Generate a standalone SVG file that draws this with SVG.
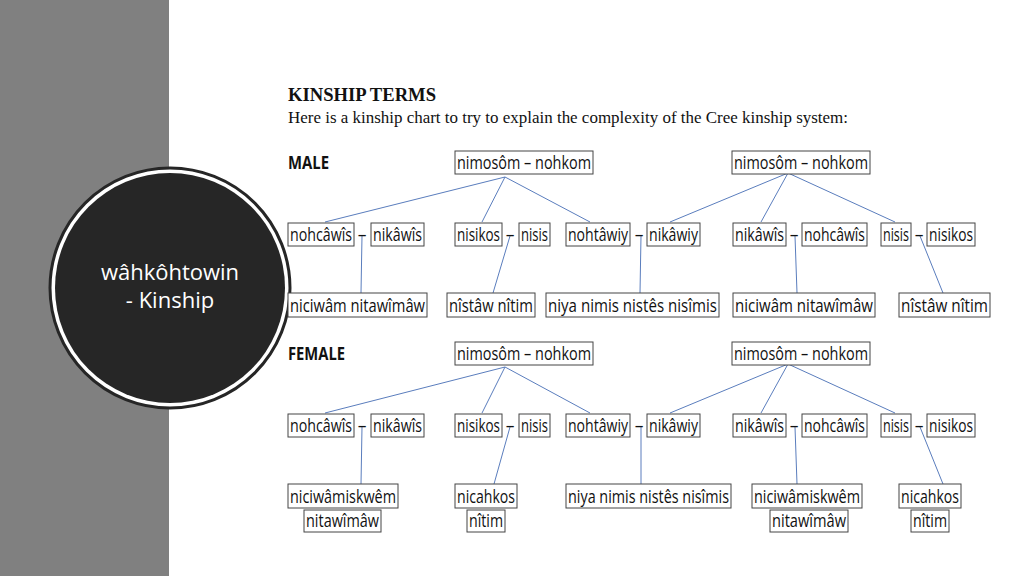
<svg xmlns="http://www.w3.org/2000/svg" width="1024" height="576" viewBox="0 0 1024 576">
<style>
.b rect{fill:#fff;stroke:#444;stroke-width:1}
.b text,.d{font-family:"Open Sans","Liberation Sans",sans-serif;font-size:17.5px;fill:#111}
.s{font-family:"Liberation Serif",serif;fill:#111}
#connectors line{stroke:#5a7dbd;stroke-width:1}
</style>
<rect x="0" y="0" width="1024" height="576" fill="#fff"/>
<rect x="0" y="0" width="169" height="576" fill="#808080"/>
<g id="circle">
<circle cx="170" cy="288" r="120" fill="#fff" stroke="#262626" stroke-width="3"/>
<circle cx="170" cy="288" r="115" fill="#262626"/>
<text x="170" y="280" text-anchor="middle" font-family="Open Sans,sans-serif" font-size="22" fill="#fff">wâhkôhtowin</text>
<text x="170" y="308" text-anchor="middle" font-family="Open Sans,sans-serif" font-size="22" fill="#fff">- Kinship</text>
</g>
<text class="s" x="288" y="101" font-size="18" font-weight="bold" textLength="148" lengthAdjust="spacingAndGlyphs">KINSHIP TERMS</text>
<text class="s" x="288" y="123" font-size="17" textLength="560" lengthAdjust="spacingAndGlyphs">Here is a kinship chart to try to explain the complexity of the Cree kinship system:</text>
<text class="d" x="288" y="169" font-weight="bold" textLength="41" lengthAdjust="spacingAndGlyphs">MALE</text>
<text class="d" x="288" y="360" font-weight="bold" textLength="57" lengthAdjust="spacingAndGlyphs">FEMALE</text>
<g id="connectors">
<line x1="505" y1="177" x2="325" y2="222"/><line x1="505" y1="177" x2="482" y2="222"/><line x1="505" y1="177" x2="590" y2="222"/>
<line x1="788" y1="173" x2="670" y2="222"/><line x1="788" y1="173" x2="761" y2="222"/><line x1="788" y1="173" x2="895" y2="222"/>
<line x1="362" y1="236" x2="361" y2="293"/><line x1="510" y1="236" x2="493" y2="293"/><line x1="641" y1="236" x2="640" y2="293"/><line x1="795" y1="236" x2="797" y2="293"/><line x1="920" y1="236" x2="943" y2="293"/>
<line x1="505" y1="367" x2="325" y2="413"/><line x1="505" y1="367" x2="482" y2="413"/><line x1="505" y1="367" x2="590" y2="413"/>
<line x1="788" y1="364" x2="670" y2="413"/><line x1="788" y1="364" x2="761" y2="413"/><line x1="788" y1="364" x2="895" y2="413"/>
<line x1="362" y1="427" x2="361" y2="484"/><line x1="510" y1="427" x2="494" y2="484"/><line x1="641" y1="427" x2="641" y2="484"/><line x1="795" y1="427" x2="797" y2="484"/><line x1="920" y1="427" x2="943" y2="484"/>
</g>
<g class="d">
<text x="362" y="241" text-anchor="middle">–</text><text x="510" y="241" text-anchor="middle">–</text><text x="639" y="241" text-anchor="middle">–</text><text x="794" y="241" text-anchor="middle">–</text><text x="919" y="241" text-anchor="middle">–</text>
<text x="362" y="432" text-anchor="middle">–</text><text x="510" y="432" text-anchor="middle">–</text><text x="639" y="432" text-anchor="middle">–</text><text x="794" y="432" text-anchor="middle">–</text><text x="919" y="432" text-anchor="middle">–</text>
</g>
<g class="b">
<g id="m-top1"><rect x="455" y="151" width="138" height="23"/><text x="457" y="169" textLength="134" lengthAdjust="spacingAndGlyphs">nimosôm – nohkom</text></g>
<g id="m-top2"><rect x="732" y="151" width="138" height="23"/><text x="734" y="169" textLength="134" lengthAdjust="spacingAndGlyphs">nimosôm – nohkom</text></g>
<g id="m-r2a"><rect x="288" y="223" width="66" height="23"/><text x="290" y="241" textLength="62" lengthAdjust="spacingAndGlyphs">nohcâwîs</text></g>
<g id="m-r2b"><rect x="371" y="223" width="53" height="23"/><text x="373" y="241" textLength="49" lengthAdjust="spacingAndGlyphs">nikâwîs</text></g>
<g id="m-r2c"><rect x="455" y="223" width="47" height="23"/><text x="457" y="241" textLength="43" lengthAdjust="spacingAndGlyphs">nisikos</text></g>
<g id="m-r2d"><rect x="519" y="223" width="31" height="23"/><text x="521" y="241" textLength="27" lengthAdjust="spacingAndGlyphs">nisis</text></g>
<g id="m-r2e"><rect x="566" y="223" width="64" height="23"/><text x="568" y="241" textLength="60" lengthAdjust="spacingAndGlyphs">nohtâwiy</text></g>
<g id="m-r2f"><rect x="647" y="223" width="53" height="23"/><text x="649" y="241" textLength="49" lengthAdjust="spacingAndGlyphs">nikâwiy</text></g>
<g id="m-r2g"><rect x="733" y="223" width="53" height="23"/><text x="735" y="241" textLength="49" lengthAdjust="spacingAndGlyphs">nikâwîs</text></g>
<g id="m-r2h"><rect x="802" y="223" width="65" height="23"/><text x="804" y="241" textLength="61" lengthAdjust="spacingAndGlyphs">nohcâwîs</text></g>
<g id="m-r2i"><rect x="881" y="223" width="30" height="23"/><text x="883" y="241" textLength="26" lengthAdjust="spacingAndGlyphs">nisis</text></g>
<g id="m-r2j"><rect x="927" y="223" width="48" height="23"/><text x="929" y="241" textLength="44" lengthAdjust="spacingAndGlyphs">nisikos</text></g>
<g id="m-r3a"><rect x="288" y="293" width="139" height="24"/><text x="290" y="312" textLength="135" lengthAdjust="spacingAndGlyphs">niciwâm nitawîmâw</text></g>
<g id="m-r3b"><rect x="447" y="293" width="88" height="24"/><text x="449" y="312" textLength="84" lengthAdjust="spacingAndGlyphs">nîstâw nîtim</text></g>
<g id="m-r3c"><rect x="546" y="293" width="173" height="24"/><text x="548" y="312" textLength="169" lengthAdjust="spacingAndGlyphs">niya nimis  nistês  nisîmis</text></g>
<g id="m-r3d"><rect x="733" y="293" width="142" height="24"/><text x="735" y="312" textLength="138" lengthAdjust="spacingAndGlyphs">niciwâm  nitawîmâw</text></g>
<g id="m-r3e"><rect x="899" y="293" width="91" height="24"/><text x="901" y="312" textLength="87" lengthAdjust="spacingAndGlyphs">nîstâw  nîtim</text></g>
<g id="f-top1"><rect x="455" y="342" width="138" height="23"/><text x="457" y="360" textLength="134" lengthAdjust="spacingAndGlyphs">nimosôm – nohkom</text></g>
<g id="f-top2"><rect x="732" y="342" width="138" height="23"/><text x="734" y="360" textLength="134" lengthAdjust="spacingAndGlyphs">nimosôm – nohkom</text></g>
<g id="f-r2a"><rect x="288" y="414" width="66" height="23"/><text x="290" y="432" textLength="62" lengthAdjust="spacingAndGlyphs">nohcâwîs</text></g>
<g id="f-r2b"><rect x="371" y="414" width="53" height="23"/><text x="373" y="432" textLength="49" lengthAdjust="spacingAndGlyphs">nikâwîs</text></g>
<g id="f-r2c"><rect x="455" y="414" width="47" height="23"/><text x="457" y="432" textLength="43" lengthAdjust="spacingAndGlyphs">nisikos</text></g>
<g id="f-r2d"><rect x="519" y="414" width="31" height="23"/><text x="521" y="432" textLength="27" lengthAdjust="spacingAndGlyphs">nisis</text></g>
<g id="f-r2e"><rect x="566" y="414" width="64" height="23"/><text x="568" y="432" textLength="60" lengthAdjust="spacingAndGlyphs">nohtâwiy</text></g>
<g id="f-r2f"><rect x="647" y="414" width="53" height="23"/><text x="649" y="432" textLength="49" lengthAdjust="spacingAndGlyphs">nikâwiy</text></g>
<g id="f-r2g"><rect x="733" y="414" width="53" height="23"/><text x="735" y="432" textLength="49" lengthAdjust="spacingAndGlyphs">nikâwîs</text></g>
<g id="f-r2h"><rect x="802" y="414" width="65" height="23"/><text x="804" y="432" textLength="61" lengthAdjust="spacingAndGlyphs">nohcâwîs</text></g>
<g id="f-r2i"><rect x="881" y="414" width="30" height="23"/><text x="883" y="432" textLength="26" lengthAdjust="spacingAndGlyphs">nisis</text></g>
<g id="f-r2j"><rect x="927" y="414" width="48" height="23"/><text x="929" y="432" textLength="44" lengthAdjust="spacingAndGlyphs">nisikos</text></g>
<g id="f-r3a"><rect x="288" y="484" width="110" height="24"/><text x="290" y="503" textLength="106" lengthAdjust="spacingAndGlyphs">niciwâmiskwêm</text></g>
<g id="f-r4a"><rect x="304" y="510" width="77" height="22"/><text x="306" y="527" class="s" textLength="73" lengthAdjust="spacingAndGlyphs">nitawîmâw</text></g>
<g id="f-r3b"><rect x="455" y="484" width="62" height="24"/><text x="457" y="503" textLength="58" lengthAdjust="spacingAndGlyphs">nicahkos</text></g>
<g id="f-r4b"><rect x="467" y="510" width="38" height="22"/><text x="469" y="527" class="s" textLength="34" lengthAdjust="spacingAndGlyphs">nîtim</text></g>
<g id="f-r3c"><rect x="566" y="484" width="165" height="24"/><text x="568" y="503" textLength="161" lengthAdjust="spacingAndGlyphs">niya nimis nistês nisîmis</text></g>
<g id="f-r3d"><rect x="752" y="484" width="110" height="24"/><text x="754" y="503" textLength="106" lengthAdjust="spacingAndGlyphs">niciwâmiskwêm</text></g>
<g id="f-r4d"><rect x="770" y="510" width="78" height="22"/><text x="772" y="527" class="s" textLength="74" lengthAdjust="spacingAndGlyphs">nitawîmâw</text></g>
<g id="f-r3e"><rect x="899" y="484" width="62" height="24"/><text x="901" y="503" textLength="58" lengthAdjust="spacingAndGlyphs">nicahkos</text></g>
<g id="f-r4e"><rect x="911" y="510" width="38" height="22"/><text x="913" y="527" class="s" textLength="34" lengthAdjust="spacingAndGlyphs">nîtim</text></g>
</g>
</svg>
